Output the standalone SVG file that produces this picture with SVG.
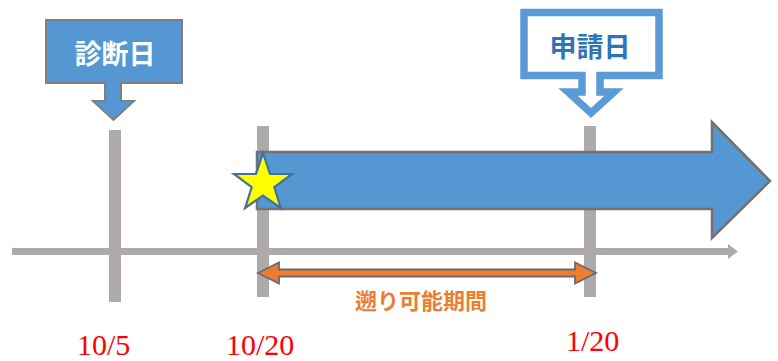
<svg xmlns="http://www.w3.org/2000/svg" width="778" height="361" viewBox="0 0 778 361">
<style>
.tick{fill:#AEAAAA}
.date{font-family:"Liberation Serif","Times New Roman",serif;font-size:30px;fill:#FF0000}
.jp{font-family:"Noto Sans CJK JP","Noto Sans",sans-serif;font-weight:bold;text-anchor:middle}
</style>
<rect width="778" height="361" fill="#FFFFFF"/>
<g id="ticks">
<rect class="tick" x="109" y="130" width="12" height="172"/>
<rect class="tick" x="257" y="126" width="12" height="171"/>
<rect class="tick" x="584" y="126" width="12" height="171"/>
</g>
<g id="connectors">
<path d="M12,248 H728 V244 L738,251.5 L728,259 V255 H12 Z" fill="#AEAAAA"/>
<path d="M258,273 L279,262.5 V269.5 H575 V262.5 L596,273 L575,283.5 V276.5 H279 V283.5 Z" fill="#ED7D31" stroke="#6B6B6B" stroke-width="1.8" stroke-linejoin="miter"/>
</g>
<g id="period-arrow">
<path d="M257,152 H712 V122 L770,181 L712,238 V209 H257 Z" fill="#5597D3" stroke="#767171" stroke-width="2.5"/>
</g>
<g id="star">
<polygon points="263,153 270,173.8 292,174 274.3,187.2 280.8,208 263,195.5 245.2,208 251.7,187.2 234,174 256,173.8" fill="#FFFF00" stroke="#41719C" stroke-width="2.2" stroke-linejoin="miter"/>
</g>
<g id="diagnosis">
<path d="M46,20 H182 V83 H121 V101 H134 L113.5,120 L93,101 H105 V83 H46 Z" fill="#5597D3" stroke="#7F7F7F" stroke-width="2"/>
<text class="jp" x="115" y="64" font-size="27" fill="#FFFFFF">診断日</text>
</g>
<g id="application">
<path d="M524,12.5 H659 V75.5 H600 V92 H614 L591,113 L568,92 H582 V75.5 H524 Z" fill="#FFFFFF" stroke="#5B9BD5" stroke-width="7.5" stroke-miterlimit="4"/>
<text class="jp" x="590" y="57" font-size="27" fill="#2E75B6">申請日</text>
</g>
<g id="labels">
<text class="jp" x="421" y="309" font-size="22" fill="#ED7D31">遡り可能期間</text>
<text class="date" x="77" y="355">10/5</text>
<text class="date" x="226" y="355">10/20</text>
<text class="date" x="566" y="351">1/20</text>
</g>
</svg>
